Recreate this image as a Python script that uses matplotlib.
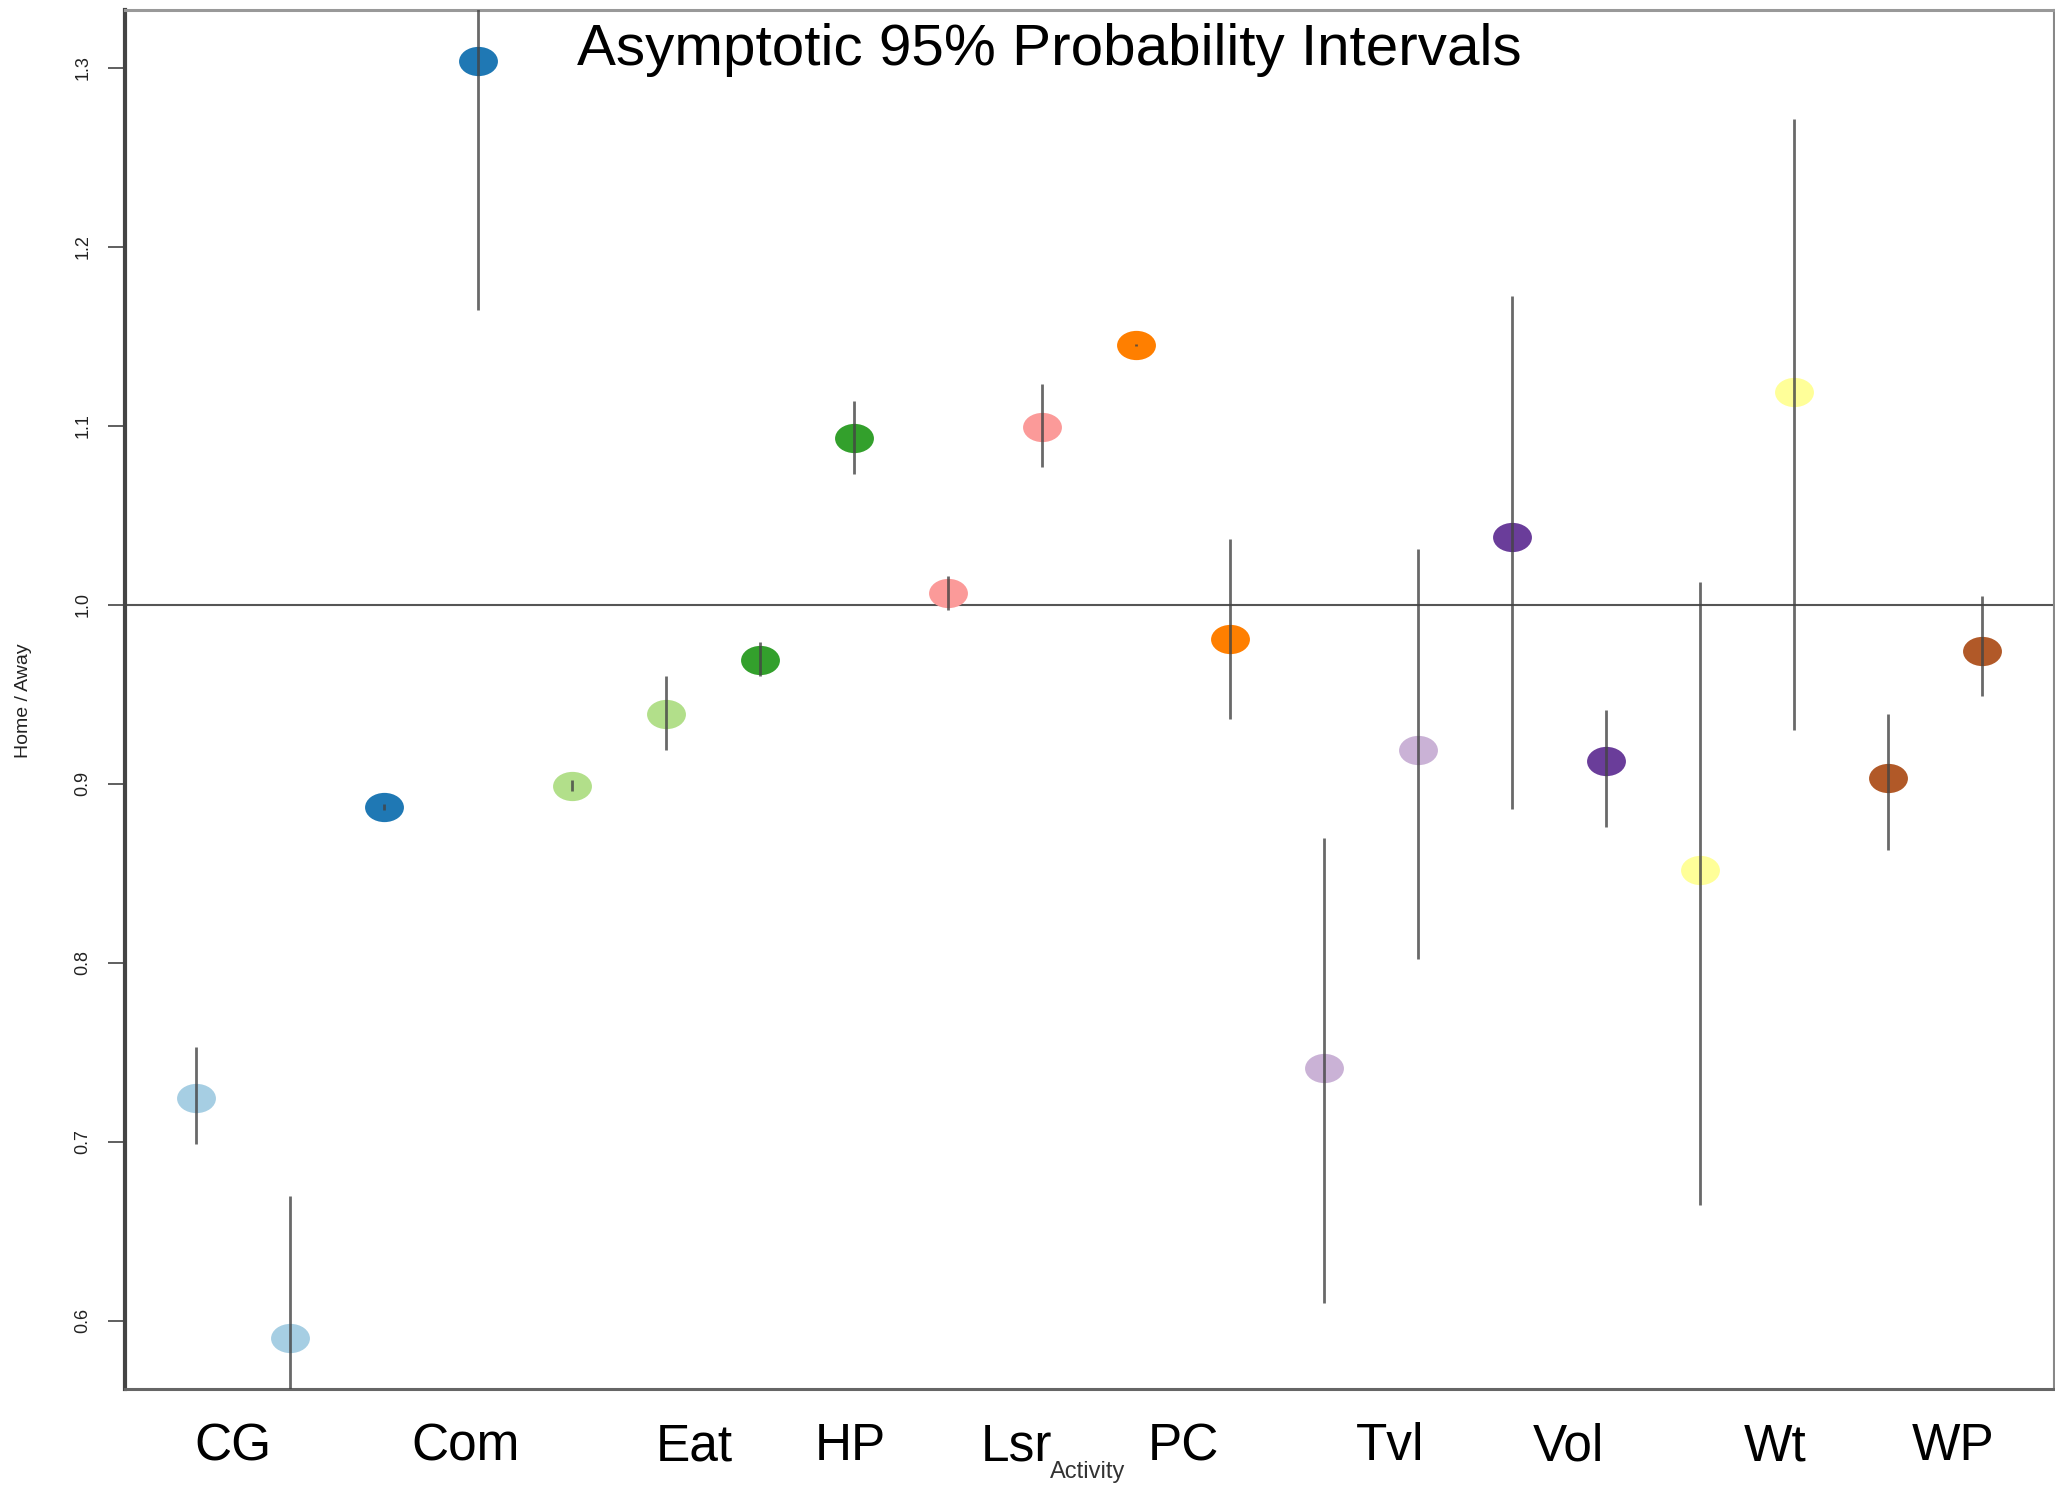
import matplotlib
matplotlib.use('Agg')
import matplotlib.pyplot as plt
import numpy as np
from matplotlib.path import Path
from matplotlib.transforms import Affine2D

# point estimates and 95% intervals, two per activity
pos = np.arange(1, 21)
est = [0.7245, 0.5905, 0.887, 1.3037, 0.899, 0.939, 0.969, 1.093, 1.0065, 1.0994,
       1.145, 0.981, 0.7415, 0.919, 1.038, 0.913, 0.852, 1.119, 0.903, 0.974]
lo = [0.699, 0.50, 0.8855, 1.1646, 0.896, 0.919, 0.960, 1.073, 0.997, 1.077,
      1.1443, 0.936, 0.610, 0.802, 0.886, 0.876, 0.665, 0.930, 0.863, 0.949]
hi = [0.753, 0.670, 0.8885, 1.44, 0.902, 0.960, 0.979, 1.114, 1.016, 1.1236,
      1.1457, 1.0365, 0.870, 1.031, 1.1726, 0.941, 1.013, 1.2715, 0.939, 1.005]
colors = ['#A6CEE3', '#A6CEE3', '#1F78B4', '#1F78B4', '#B2DF8A', '#B2DF8A',
          '#33A02C', '#33A02C', '#FB9A99', '#FB9A99', '#FF7F00', '#FF7F00',
          '#CAB2D6', '#CAB2D6', '#6A3D9A', '#6A3D9A', '#FFFF99', '#FFFF99',
          '#B15928', '#B15928']

activities = ['CG', 'Com', 'Eat', 'HP', 'Lsr', 'PC', 'Tvl', 'Vol', 'Wt', 'WP']
act_pos = [1.39, 3.87, 6.3, 7.96, 9.73, 11.5, 13.7, 15.6, 17.8, 19.7]

sans = ['Liberation Sans', 'DejaVu Sans']

fig = plt.figure(figsize=(20.55, 14.86), dpi=100)
ax = fig.add_axes([0.0608, 0.0653, 0.9387, 0.9277])

# wide ellipse marker
ell = Affine2D().scale(1.33, 1.0).transform_path(Path.unit_circle())

for i in range(len(pos)):
    ax.plot(pos[i], est[i], marker=ell, markersize=28, color=colors[i],
            markeredgewidth=0, linestyle='none', zorder=2)

ax.vlines(pos, lo, hi, color='#444444', alpha=0.8, linewidth=2.0, zorder=3)
ax.axhline(1.0, color='#555555', linewidth=1.5, zorder=1)

ax.set_xlim(0.24, 20.77)
ax.set_ylim(0.562, 1.332)

ax.set_yticks([0.6, 0.7, 0.8, 0.9, 1.0, 1.1, 1.2, 1.3])
ax.set_yticklabels(['0.6', '0.7', '0.8', '0.9', '1.0', '1.1', '1.2', '1.3'],
                   rotation=90, va='center', family=sans, fontsize=13, color='#222222')
ax.tick_params(axis='y', length=12, width=1.2, color='#444444', pad=12)

ax.set_xticks(act_pos)
ax.set_xticklabels(activities, family=sans, fontsize=37)
ax.tick_params(axis='x', length=0, pad=24)

ax.spines['left'].set_linewidth(3)
ax.spines['left'].set_color('#444444')
ax.spines['bottom'].set_linewidth(2.2)
ax.spines['bottom'].set_color('#666666')
ax.spines['top'].set_linewidth(2.2)
ax.spines['top'].set_color('#999999')
ax.spines['right'].set_linewidth(1.5)
ax.spines['right'].set_color('#888888')

fig.text(1049 / 2055, 1 - 50 / 1486, 'Asymptotic 95% Probability Intervals',
         ha='center', va='center', fontsize=42, family=sans)
fig.text(24 / 2055, 1 - 701 / 1486, 'Home / Away', rotation=90, ha='center', va='center',
         fontsize=14, family=sans, color='#222222')
fig.text(1088 / 2055, 1 - 1472 / 1486, 'Activity', ha='center', va='center',
         fontsize=17, family=sans, color='#333333')

fig.savefig('out.png', dpi=100)
